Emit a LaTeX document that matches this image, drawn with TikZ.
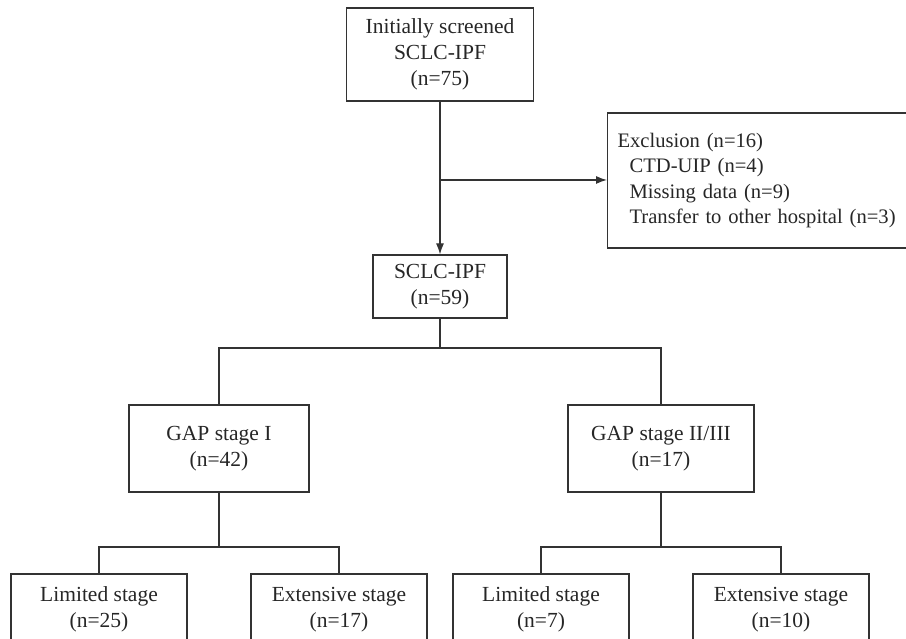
\documentclass[tikz,border=0pt]{standalone}
\usepackage{fontspec}
\setmainfont{Liberation Serif}
\usetikzlibrary{arrows.meta}

\begin{document}
\begin{tikzpicture}[x=1pt, y=1pt, line width=1.2pt,
    box/.style={draw=black!80, align=center, inner sep=0pt, text=black!85,
      font=\fontsize{21.5}{26}\selectfont},
    stagebox/.style={box, minimum width=176pt, minimum height=71pt},
    link/.style={draw=black!80},
    arr/.style={link, -{Latex[length=11pt,width=8pt]}}]
		\useasboundingbox (0,0) rectangle (906,639);
		\clip (0,0) rectangle (906,639);
		% screening
		\node[box, minimum width=187pt, minimum height=93pt] (screen) at (440,584.5)
			{Initially screened\\SCLC-IPF\\(n=75)};
		\node[box, anchor=west, align=left, text width=330pt, inner xsep=10pt,
			minimum height=135pt, font=\fontsize{20.6}{25.5}\selectfont] (excl) at (607,458.5)
			{Exclusion (n=16)\\\hspace*{12pt}CTD-UIP (n=4)\\\hspace*{12pt}Missing data (n=9)\\\hspace*{12pt}Transfer to other hospital (n=3)};
		\node[box, minimum width=134pt, minimum height=63pt] (ipf) at (440,352.5)
			{SCLC-IPF\\(n=59)};
		% GAP stages
		\node[box, minimum width=180pt, minimum height=87pt] (gapone) at (219,190.5)
			{GAP stage I\\(n=42)};
		\node[box, minimum width=186pt, minimum height=87pt] (gaptwo) at (661,190.5)
			{GAP stage II/III\\(n=17)};
		% tumour stages
		\node[stagebox] (limone) at (99,29.5) {Limited stage\\(n=25)};
		\node[stagebox] (extone) at (339,29.5) {Extensive stage\\(n=17)};
		\node[stagebox] (limtwo) at (541,29.5) {Limited stage\\(n=7)};
		\node[stagebox] (exttwo) at (781,29.5) {Extensive stage\\(n=10)};
		% connectors
		\coordinate (split) at (440,459);
		\coordinate (fork) at (440,291);
		\coordinate (forkone) at (219,92);
		\coordinate (forktwo) at (661,92);
		\draw[arr] (screen.south) -- (ipf.north);
		\draw[arr] (split) -- (split -| excl.west);
		\draw[link] (ipf.south) -- (fork);
		\draw[link] (gapone.north) |- (fork) -| (gaptwo.north);
		\draw[link] (gapone.south) -- (forkone);
		\draw[link] (limone.north) |- (forkone) -| (extone.north);
		\draw[link] (gaptwo.south) -- (forktwo);
		\draw[link] (limtwo.north) |- (forktwo) -| (exttwo.north);
	\end{tikzpicture}
\end{document}
